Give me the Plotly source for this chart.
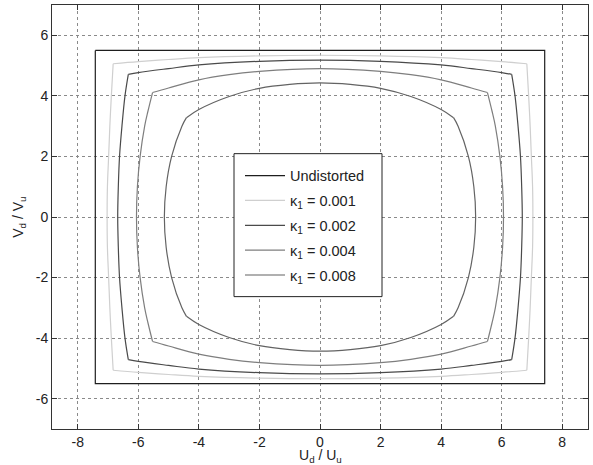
import plotly.graph_objects as go

# ---- data ----
UND_X = [-7.42, 7.42, 7.42, -7.42, -7.42]
UND_Y = [5.5, 5.5, -5.5, -5.5, 5.5]

# kappa = 0.001 : sides listed separately (top, right, bottom, left)
K1_TOP_X = [-6.83, -6, -5, -4, -2, 0, 2, 4, 5, 6, 6.83]
K1_TOP_Y = [5.06, 5.13, 5.2, 5.26, 5.32, 5.34, 5.32, 5.26, 5.2, 5.13, 5.06]
K1_RIGHT_X = [6.83, 6.89, 6.94, 6.98, 7.02, 7.03, 7.02, 6.98, 6.94, 6.89, 6.83]
K1_RIGHT_Y = [5.06, 4, 3, 2, 1, 0, -1, -2, -3, -4, -5.06]
K1_BOTTOM_X = [6.83, 6, 5, 4, 2, 0, -2, -4, -5, -6, -6.83]
K1_BOTTOM_Y = [-5.06, -5.13, -5.2, -5.26, -5.32, -5.34, -5.32, -5.26, -5.2, -5.13, -5.06]
K1_LEFT_X = [-6.83, -6.89, -6.94, -6.98, -7.02, -7.03, -7.02, -6.98, -6.94, -6.89, -6.83]
K1_LEFT_Y = [-5.06, -4, -3, -2, -1, 0, 1, 2, 3, 4, 5.06]

# kappa = 0.002
K2_TOP_X = [-6.33, -6, -5, -4, -2, 0, 2, 4, 5, 6, 6.33]
K2_TOP_Y = [4.71, 4.77, 4.90, 5.02, 5.14, 5.18, 5.14, 5.02, 4.90, 4.77, 4.71]
K2_RIGHT_X = [6.33, 6.44, 6.54, 6.62, 6.66, 6.68, 6.66, 6.62, 6.54, 6.44, 6.33]
K2_RIGHT_Y = [4.71, 4, 3, 2, 1, 0, -1, -2, -3, -4, -4.71]
K2_BOTTOM_X = [6.33, 6, 5, 4, 2, 0, -2, -4, -5, -6, -6.33]
K2_BOTTOM_Y = [-4.71, -4.77, -4.90, -5.02, -5.14, -5.18, -5.14, -5.02, -4.90, -4.77, -4.71]
K2_LEFT_X = [-6.33, -6.44, -6.54, -6.62, -6.66, -6.68, -6.66, -6.62, -6.54, -6.44, -6.33]
K2_LEFT_Y = [-4.71, -4, -3, -2, -1, 0, 1, 2, 3, 4, 4.71]

# kappa = 0.004
K4_TOP_X = [-5.53, -5, -4, -3, -2, 0, 2, 3, 4, 5, 5.53]
K4_TOP_Y = [4.11, 4.26, 4.53, 4.70, 4.81, 4.90, 4.81, 4.70, 4.53, 4.26, 4.11]
K4_RIGHT_X = [5.53, 5.68, 5.79, 5.94, 6.03, 6.06, 6.03, 5.94, 5.79, 5.68, 5.53]
K4_RIGHT_Y = [4.11, 3.5, 3, 2, 1, 0, -1, -2, -3, -3.5, -4.11]
K4_BOTTOM_X = [5.53, 5, 4, 3, 2, 0, -2, -3, -4, -5, -5.53]
K4_BOTTOM_Y = [-4.11, -4.26, -4.53, -4.70, -4.81, -4.90, -4.81, -4.70, -4.53, -4.26, -4.11]
K4_LEFT_X = [-5.53, -5.68, -5.79, -5.94, -6.03, -6.06, -6.03, -5.94, -5.79, -5.68, -5.53]
K4_LEFT_Y = [-4.11, -3.5, -3, -2, -1, 0, 1, 2, 3, 3.5, 4.11]

# kappa = 0.008
K8_TOP_X = [-4.41, -4, -3, -2, -1, 0, 1, 2, 3, 4, 4.41]
K8_TOP_Y = [3.28, 3.55, 3.98, 4.25, 4.38, 4.43, 4.38, 4.25, 3.98, 3.55, 3.28]
K8_RIGHT_X = [4.41, 4.56, 4.90, 5.08, 5.14, 5.08, 4.90, 4.56, 4.41]
K8_RIGHT_Y = [3.28, 3, 2, 1, 0, -1, -2, -3, -3.28]
K8_BOTTOM_X = [4.41, 4, 3, 2, 1, 0, -1, -2, -3, -4, -4.41]
K8_BOTTOM_Y = [-3.28, -3.55, -3.98, -4.25, -4.38, -4.43, -4.38, -4.25, -3.98, -3.55, -3.28]
K8_LEFT_X = [-4.41, -4.56, -4.90, -5.08, -5.14, -5.08, -4.90, -4.56, -4.41]
K8_LEFT_Y = [-3.28, -3, -2, -1, 0, 1, 2, 3, 3.28]

LABELS = ["Undistorted", "κ<sub>1</sub> = 0.001", "κ<sub>1</sub> = 0.002",
          "κ<sub>1</sub> = 0.004", "κ<sub>1</sub> = 0.008"]
COLORS = ["#1e1e1e", "#cfcfcf", "#4a4a4a", "#7e7e7e", "#636363"]

X_TICKS = [-8, -6, -4, -2, 0, 2, 4, 6, 8]
X_TICK_TEXT = ["-8", "-6", "-4", "-2", "0", "2", "4", "6", "8"]
Y_TICKS = [-6, -4, -2, 0, 2, 4, 6]
Y_TICK_TEXT = ["-6", "-4", "-2", "0", "2", "4", "6"]


def join_sides(*sides):
    xs, ys = [], []
    for sx, sy in sides:
        xs += list(sx) + [None]
        ys += list(sy) + [None]
    return xs[:-1], ys[:-1]


curves = [
    join_sides((K1_TOP_X, K1_TOP_Y), (K1_RIGHT_X, K1_RIGHT_Y),
               (K1_BOTTOM_X, K1_BOTTOM_Y), (K1_LEFT_X, K1_LEFT_Y)),
    join_sides((K2_TOP_X, K2_TOP_Y), (K2_RIGHT_X, K2_RIGHT_Y),
               (K2_BOTTOM_X, K2_BOTTOM_Y), (K2_LEFT_X, K2_LEFT_Y)),
    join_sides((K4_TOP_X, K4_TOP_Y), (K4_RIGHT_X, K4_RIGHT_Y),
               (K4_BOTTOM_X, K4_BOTTOM_Y), (K4_LEFT_X, K4_LEFT_Y)),
    join_sides((K8_TOP_X, K8_TOP_Y), (K8_RIGHT_X, K8_RIGHT_Y),
               (K8_BOTTOM_X, K8_BOTTOM_Y), (K8_LEFT_X, K8_LEFT_Y)),
]

fig = go.Figure()
fig.add_trace(go.Scatter(x=UND_X, y=UND_Y, mode="lines", name=LABELS[0],
                         line=dict(color=COLORS[0], width=1.2), legendgroup="g0"))
for i, (cx, cy) in enumerate(curves):
    fig.add_trace(go.Scatter(x=cx, y=cy, mode="lines", name=LABELS[i + 1],
                             connectgaps=False, legendgroup=f"g{i+1}",
                             line=dict(color=COLORS[i + 1], width=1.2,
                                       shape="spline", smoothing=1.0)))

FONT = "Liberation Sans, Arial, sans-serif"
axis_common = dict(
    showgrid=True, gridcolor="#8a8a8a", griddash="dot", gridwidth=1,
    zeroline=False, showline=True, linecolor="#333333", linewidth=1,
    mirror="ticks", ticks="inside", ticklen=5, tickcolor="#333333",
    automargin=False,
    tickfont=dict(family=FONT, size=14, color="#222"),
)

fig.update_xaxes(range=[-8.85, 8.85], tickvals=X_TICKS, ticktext=X_TICK_TEXT, **axis_common)
fig.update_yaxes(range=[-7, 7], tickvals=Y_TICKS, ticktext=Y_TICK_TEXT, **axis_common)

# legend frame (paper coordinates of the reference legend box)
PLOT_L, PLOT_W, PLOT_B, PLOT_H = 52, 536, 429.4, 424.1
def px_x(p):
    return (p - PLOT_L) / PLOT_W
def px_y(p):
    return (PLOT_B - p) / PLOT_H

fig.update_layout(
    width=593, height=465,
    margin=dict(l=52, r=5, t=5, b=36, autoexpand=False),
    plot_bgcolor="white", paper_bgcolor="white",
    font=dict(family=FONT, size=14, color="#222"),
    showlegend=True,
    legend=dict(x=px_x(240), y=px_y(160), xanchor="left", yanchor="top",
                bgcolor="rgba(0,0,0,0)", borderwidth=0,
                font=dict(size=14.5), tracegroupgap=3, traceorder="grouped",
                itemwidth=40),
    shapes=[dict(type="rect", xref="paper", yref="paper",
                 x0=px_x(234), x1=px_x(382), y0=px_y(297), y1=px_y(154),
                 fillcolor="white", line=dict(color="#222", width=1), layer="above")],
    annotations=[
        dict(text="U<sub>d</sub> / U<sub>u</sub>", xref="paper", yref="paper",
             x=0.5, y=-0.063, xanchor="center", yanchor="middle",
             showarrow=False, font=dict(size=14)),
        dict(text="V<sub>d</sub> / V<sub>u</sub>", xref="paper", yref="paper",
             x=-0.062, y=0.5, xanchor="center", yanchor="middle", textangle=-90,
             showarrow=False, font=dict(size=14)),
    ],
)

fig.write_html("out.html", config={"displayModeBar": False},
               post_script="document.body.style.margin='0';document.body.style.overflow='hidden';")
